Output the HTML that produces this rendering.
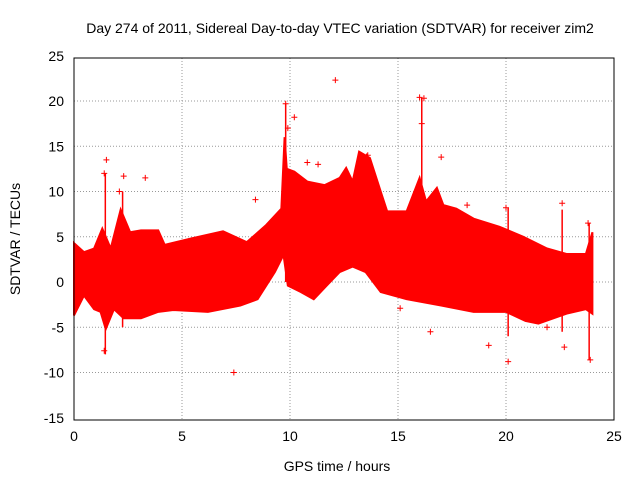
<!DOCTYPE html>
<html><head><meta charset="utf-8"><style>
body{margin:0;background:#fff;}
svg{display:block;font-family:"Liberation Sans",sans-serif;}
</style></head><body>
<svg id="chart" width="640" height="480">
<rect width="640" height="480" fill="#fff"/>
<text x="340" y="33" font-size="14" text-anchor="middle">Day 274 of 2011, Sidereal Day-to-day VTEC variation (SDTVAR) for receiver zim2</text>
<g id="grid"></g>
<g id="band"></g>
<g id="pts"></g>
<rect x="74" y="58" width="540" height="362" fill="none" stroke="#000" stroke-width="1"/>
<g id="axes"></g>
<text x="337" y="471" font-size="14" text-anchor="middle">GPS time / hours</text>
<text transform="translate(20,239) rotate(-90)" font-size="14" text-anchor="middle">SDTVAR / TECUs</text>
</svg>
<script>
const xTicks=[0,5,10,15,20,25];
const yTicks=[-15,-10,-5,0,5,10,15,20,25];
const upT=[0,0.46,0.93,1.31,1.7,2.16,2.6,3.1,3.9,4.2,5.4,6.9,8,8.9,9.6,9.75,9.85,10.2,10.8,11.6,12.3,12.6,12.9,13.2,13.7,14.2,14.5,15.4,16.0,16.3,16.8,17.1,17.7,18.5,19.7,20.8,21.9,22.8,23.7,24];
const upV=[4.3,3.3,3.7,5.9,3.7,8,5.5,5.7,5.7,4.1,4.8,5.6,4.4,6.3,8.1,16,12.5,12.2,11.1,10.7,11.5,12.6,11.1,14.4,13.7,10,7.8,7.8,11.5,8.9,10.4,8.5,8.1,7,6.1,5,3.7,3.1,3.1,5.5];
const loT=[0,0.46,0.93,1.23,1.47,1.85,2.3,3.1,3.9,4.6,6.2,7.7,8.5,9.3,9.7,9.9,10.5,11.1,11.7,12.3,12.9,13.5,14.2,15.4,17,18.5,20,20.9,21.5,22.8,23.7,24];
const loV=[-3.7,-1.5,-3,-3.3,-5.2,-3,-4,-4,-3.3,-3.1,-3.3,-2.6,-1.9,1.1,3,-0.4,-1.1,-1.9,-0.4,1.1,1.7,1.1,-1.1,-1.9,-2.6,-3.3,-3.3,-4.3,-4.6,-3.5,-3,-3.5];
const spikeT=[1.45,9.8,16.1,23.85,2.25,20.1,22.6,13.55];
const spikeLo=[-8,0,-1,-8.6,-5,-6,-5.5,2];
const spikeHi=[12,19.7,20.3,6.5,10,8.2,8,14.2];
const outX=[12.1,10.2,9.8,16.0,16.1,1.5,7.4,1.4,20.1,22.7,23.9,15.1,22.6,2.3,3.3,8.4,9.9,16.2,13.6,1.4,20.0,23.8,2.1,10.8,11.3,18.2,17.0,19.2,21.9,16.5];
const outY=[22.3,18.2,19.7,20.4,17.5,13.5,-10,-7.6,-8.8,-7.2,-8.6,-2.9,8.7,11.7,11.5,9.1,17,20.3,14,12,8.2,6.5,10,13.2,13,8.5,13.8,-7,-5,-5.5];
const X=v=>74+v*21.6, Y=v=>282-v*9.05;
const ns="http://www.w3.org/2000/svg";
function mk(t,a,p){const e=document.createElementNS(ns,t);for(const k in a)e.setAttribute(k,a[k]);p.appendChild(e);return e;}
const g=document.getElementById('grid'),ax=document.getElementById('axes');
xTicks.forEach(t=>{
 if(t>0&&t<25){const l=mk('line',{x1:X(t),x2:X(t),y1:58,y2:420,stroke:'#999','stroke-dasharray':'1,2'},g);}
 const tx=mk('text',{x:X(t),y:441,'font-size':14,'text-anchor':'middle'},ax);tx.textContent=t;
 
});
yTicks.forEach(t=>{
 if(t>-15&&t<25){const l=mk('line',{x1:74,x2:614,y1:Y(t),y2:Y(t),stroke:'#999','stroke-dasharray':'1,2'},g);}
 const tx=mk('text',{x:64,y:Y(t)+5,'font-size':14,'text-anchor':'end'},ax);tx.textContent=t;
 
});
let d='M'+upT.map((t,i)=>X(t)+','+Y(upV[i])).join('L');
for(let i=loT.length-1;i>=0;i--)d+='L'+X(loT[i])+','+Y(loV[i]);
const bg=document.getElementById('band');
const b=mk('path',{d:d+'Z',fill:'#f00',stroke:'#f00','stroke-width':2},bg);

spikeT.forEach((t,i)=>{
 const s=mk('line',{x1:X(t),x2:X(t),y1:Y(spikeHi[i]),y2:Y(spikeLo[i]),stroke:'#f00','stroke-width':1.5},bg);
 
});
const pg=document.getElementById('pts');
outX.forEach((x,i)=>{
 const cx=X(x),cy=Y(outY[i]);
 const p=mk('path',{d:`M${cx-3},${cy}H${cx+3}M${cx},${cy-3}V${cy+3}`,stroke:'#f00','stroke-width':1},pg);
 
});
</script>
</body></html>
